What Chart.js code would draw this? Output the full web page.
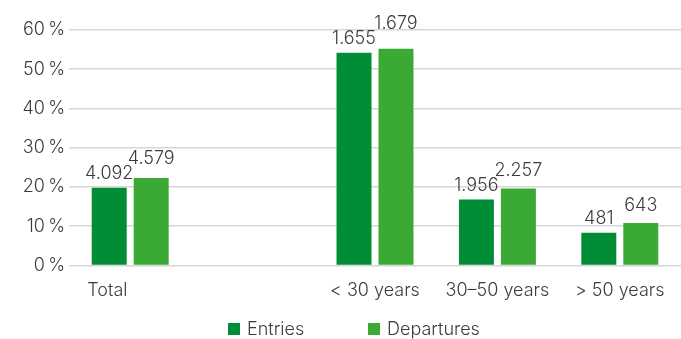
<!DOCTYPE html>
<html lang="en">
<head>
    <meta charset="UTF-8">
    <title>Entries and Departures</title>
    <script src="https://cdn.jsdelivr.net/npm/chart.js"></script>
    <style>
        body { margin: 0; background: #fff; }
        #wrap { position: relative; width: 681px; height: 339px; }
        #legend { position: absolute; left: 228px; top: 318px; display: flex;
                  font: 300 18px Inter, sans-serif; color: #3c3c3c; }
        #legend span { display: inline-flex; align-items: center; width: 140px; }
        #legend i { display: inline-block; width: 12px; height: 12px; margin-right: 7px; }
    </style>
</head>
<body>
    <div id="wrap">
        <canvas id="barChart" width="681" height="339"></canvas>
        <div id="legend"></div>
    </div>
    <script>
        const categories = ['Total', '', '< 30 years', '30–50 years', '> 50 years'];
        const entriesPct = [19.8, null, 54.2, 16.8, 8.3];
        const departuresPct = [22.3, null, 55.2, 19.6, 10.8];
        const entriesCount = [4092, null, 1655, 1956, 481];
        const departuresCount = [4579, null, 1679, 2257, 643];
        const yTicks = [0, 10, 20, 30, 40, 50, 60];

        const textColor = '#3c3c3c';
        const font = "Inter, sans-serif";

        // thousands with a dot: 4092 -> 4.092
        const fmt = n => String(n).replace(/\B(?=(\d{3})+(?!\d))/g, '.');

        const valueLabels = {
            id: 'valueLabels',
            afterDatasetsDraw(chart) {
                const ctx = chart.ctx;
                const m0 = chart.getDatasetMeta(0), m1 = chart.getDatasetMeta(1);
                ctx.save();
                ctx.font = '300 18px ' + font;
                ctx.fillStyle = textColor;
                ctx.textAlign = 'center';
                ctx.textBaseline = 'bottom';
                categories.forEach((c, i) => {
                    if (entriesCount[i] == null) return;
                    const a = m0.data[i], b = m1.data[i];
                    const ta = fmt(entriesCount[i]), tb = fmt(departuresCount[i]);
                    const wa = ctx.measureText(ta).width, wb = ctx.measureText(tb).width;
                    const ya = a.y - 5;
                    let yb = b.y - 8;
                    // keep the two labels from running into each other
                    if (a.x + wa / 2 + 4 > b.x - wb / 2) yb = Math.min(yb, ya - 15);
                    ctx.fillText(ta, a.x, ya);
                    ctx.fillText(tb, b.x, yb);
                });
                ctx.restore();
            }
        };

        const chart = new Chart(document.getElementById('barChart'), {
            type: 'bar',
            data: {
                labels: categories,
                datasets: [{
                    label: 'Entries',
                    data: entriesPct,
                    backgroundColor: '#008D36',
                    categoryPercentage: 0.686,
                    barPercentage: 0.833
                }, {
                    label: 'Departures',
                    data: departuresPct,
                    backgroundColor: '#3AAA35',
                    categoryPercentage: 0.686,
                    barPercentage: 0.833
                }]
            },
            options: {
                responsive: false,
                animation: false,
                layout: { padding: { top: 30, right: 0, bottom: 24, left: 0 } },
                plugins: {
                    legend: { display: false },
                    tooltip: { enabled: false }
                },
                scales: {
                    x: {
                        grid: { display: false, drawTicks: false },
                        border: { display: false },
                        ticks: {
                            color: textColor,
                            font: { family: font, size: 18, weight: 300 },
                            padding: 14,
                            maxRotation: 0,
                            autoSkip: false,
                            // the first label sits left of its bars
                            callback: (v, i) => i === 0 ? categories[i] + '\u00a0'.repeat(9) : categories[i]
                        }
                    },
                    y: {
                        min: 0,
                        max: 60,
                        afterFit: s => { s.width = 69; },
                        afterBuildTicks: s => { s.ticks = yTicks.map(v => ({ value: v })); },
                        grid: { color: '#d6d6d6', lineWidth: 1.5, drawTicks: false },
                        border: { display: false },
                        ticks: {
                            color: textColor,
                            font: { family: font, size: 18, weight: 300 },
                            padding: 4,
                            callback: v => v + '\u2009%'
                        }
                    }
                }
            },
            plugins: [valueLabels]
        });

        document.getElementById('legend').innerHTML = chart.data.datasets
            .map(d => `<span><i style="background:${d.backgroundColor}"></i>${d.label}</span>`).join('');
    </script>
</body>
</html>
